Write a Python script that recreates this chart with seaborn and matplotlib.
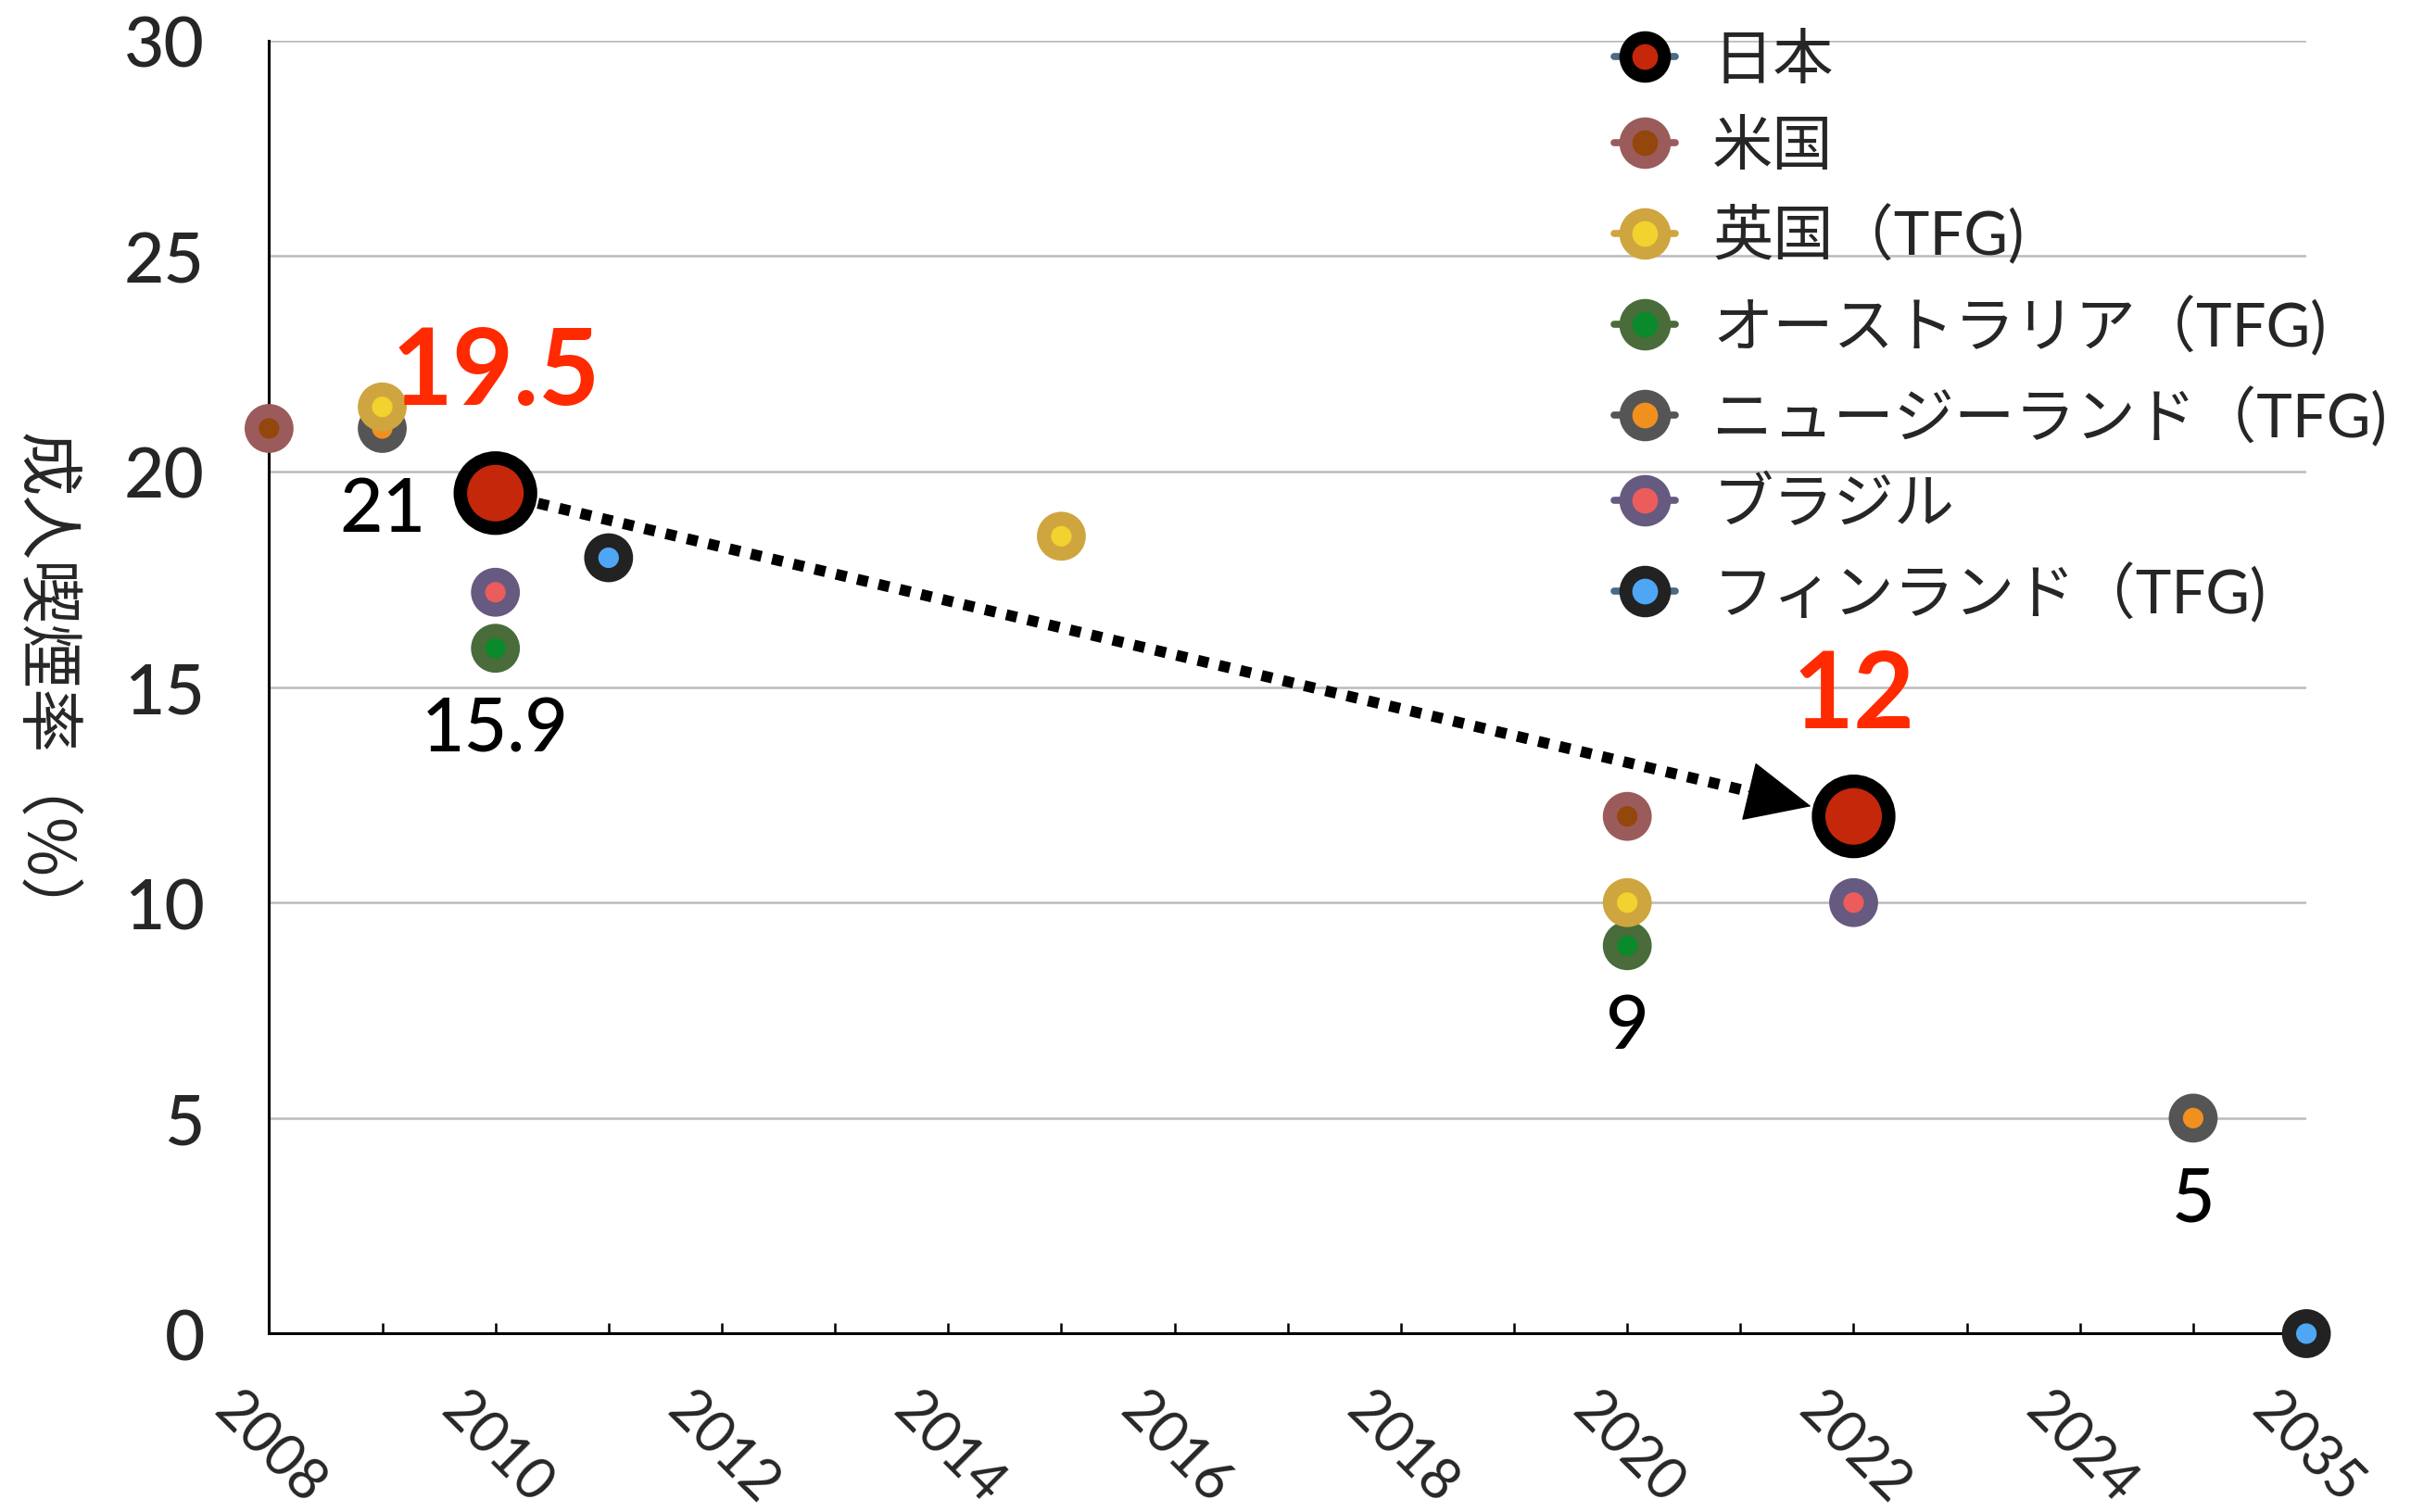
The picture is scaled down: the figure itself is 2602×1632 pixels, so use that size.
import matplotlib
matplotlib.use("Agg")
import matplotlib.pyplot as plt
import matplotlib.patheffects as pe
from matplotlib.lines import Line2D
from matplotlib.patches import ArrowStyle
import numpy as np
import pandas as pd
import seaborn as sns

# Category axis (one slot per year, last slot is the 2035 target)
years = ["2008", "2009", "2010", "2011", "2012", "2013", "2014", "2015", "2016",
         "2017", "2018", "2019", "2020", "2021", "2022", "2023", "2024", "2025",
         "2035"]

countries = ["日本", "米国", "英国（TFG)", "オーストラリア（TFG)",
             "ニュージーランド（TFG)", "ブラジル", "フィンランド（TFG)"]

japan_years = ["2010", "2022"]
japan_rates = [19.5, 12.0]
usa_years = ["2008", "2020"]
usa_rates = [21.0, 12.0]
uk_years = ["2009", "2015", "2020"]
uk_rates = [21.5, 18.5, 10.0]
aus_years = ["2010", "2020"]
aus_rates = [15.9, 9.0]
nz_years = ["2009", "2025"]
nz_rates = [21.0, 5.0]
brazil_years = ["2010", "2022"]
brazil_rates = [17.2, 10.0]
fin_years = ["2011", "2035"]
fin_rates = [18.0, 0.0]

series = {
    "日本": (japan_years, japan_rates),
    "米国": (usa_years, usa_rates),
    "英国（TFG)": (uk_years, uk_rates),
    "オーストラリア（TFG)": (aus_years, aus_rates),
    "ニュージーランド（TFG)": (nz_years, nz_rates),
    "ブラジル": (brazil_years, brazil_rates),
    "フィンランド（TFG)": (fin_years, fin_rates),
}

ring_colors = {
    "日本": "#000000", "米国": "#9c5b5b", "英国（TFG)": "#cfa53f",
    "オーストラリア（TFG)": "#4a6b3a", "ニュージーランド（TFG)": "#555555",
    "ブラジル": "#665a80", "フィンランド（TFG)": "#222222",
}
dot_colors = {
    "日本": "#c4270a", "米国": "#93470c", "英国（TFG)": "#f2d22e",
    "オーストラリア（TFG)": "#0a8a2a", "ニュージーランド（TFG)": "#f0901e",
    "ブラジル": "#eb5c5c", "フィンランド（TFG)": "#4fa6f5",
}
stub_colors = dict(ring_colors)
stub_colors["日本"] = "#4a6a85"
stub_colors["フィンランド（TFG)"] = "#4a6a85"

draw_order = ["日本", "米国", "オーストラリア（TFG)", "ニュージーランド（TFG)",
              "英国（TFG)", "ブラジル", "フィンランド（TFG)"]

rows = []
for name, (ys, vals) in series.items():
    for y, v in zip(ys, vals):
        rows.append({"country": name, "year": y, "pos": years.index(y), "rate": v})
df = pd.DataFrame(rows)

sns.set_theme(style="white")
plt.rcParams["font.family"] = ["Lato", "Noto Sans CJK JP", "DejaVu Sans"]

DPI = 100
fig, ax = plt.subplots(figsize=(26.02, 16.33), dpi=DPI)
fig.subplots_adjust(left=0.1116, right=0.9566, top=0.9726, bottom=0.1179)

shadow = [pe.SimplePatchShadow(offset=(2, -3), shadow_rgbFace="black", alpha=0.3),
          pe.Normal()]

for name in draw_order:
    d = df[df["country"] == name]
    if name == "日本":
        size, lw = 2970, 10.5
    else:
        size, lw = 729, 11.0
    sns.scatterplot(data=d, x="pos", y="rate", ax=ax, s=size,
                    color=dot_colors[name], edgecolor=ring_colors[name],
                    linewidth=lw, legend=False, zorder=5, clip_on=False)
    ax.collections[-1].set_path_effects(shadow)

# Axes limits first so the arrow geometry is final
ax.set_xlim(0, len(years) - 1)
ax.set_ylim(0, 30)

# Japan trend arrow: dotted shaft plus a solid head
jp = df[df["country"] == "日本"].sort_values("pos")
p0 = np.array([jp["pos"].iloc[0], jp["rate"].iloc[0]], dtype=float)
p1 = np.array([jp["pos"].iloc[1], jp["rate"].iloc[1]], dtype=float)
pt2px = DPI / 72
marker_gap = 34   # points between marker centre and arrow ends
head_len = 48     # points
d0 = ax.transData.transform(p0)
d1 = ax.transData.transform(p1)
u = (d1 - d0) / np.hypot(*(d1 - d0))
shaft_start = d0 + u * marker_gap * pt2px
shaft_end = d1 - u * (marker_gap + head_len - 4) * pt2px
shaft = ax.transData.inverted().transform(np.vstack([shaft_start, shaft_end]))
ax.plot(shaft[:, 0], shaft[:, 1], color="black", lw=8.5,
        linestyle=(0, (1, 1)), dash_capstyle="butt", zorder=4)
back = marker_gap + head_len + 2
ax.annotate("", xy=tuple(p1), xytext=(-u[0] * back, -u[1] * back),
            textcoords="offset points",
            arrowprops=dict(arrowstyle=ArrowStyle("-|>", head_length=0.48, head_width=0.22),
                            mutation_scale=100, color="black", lw=1,
                            shrinkA=0, shrinkB=marker_gap),
            zorder=4)

# Value labels
red_labels = [("日本", "2010", 19.5), ("日本", "2022", 12.0)]
for name, y, v in red_labels:
    ax.annotate(f"{v:g}", xy=(years.index(y), v), xytext=(0, 93),
                textcoords="offset points", ha="center", va="center",
                fontsize=82, fontweight="bold", color="#ff2a00", zorder=6)

black_labels = [("ニュージーランド（TFG)", "2009", 21.0),
                ("オーストラリア（TFG)", "2010", 15.9),
                ("オーストラリア（TFG)", "2020", 9.0),
                ("ニュージーランド（TFG)", "2025", 5.0)]
for name, y, v in black_labels:
    ax.annotate(f"{v:g}", xy=(years.index(y), v), xytext=(0, -63),
                textcoords="offset points", ha="center", va="center",
                fontsize=58, fontweight="medium", color="black", zorder=6)

# Axes styling
ax.set_yticks([0, 5, 10, 15, 20, 25, 30])
ax.set_xticks(range(len(years)))
ax.set_xticklabels([y if i % 2 == 0 else "" for i, y in enumerate(years)],
                   rotation=-45, ha="center", fontsize=44)
ax.tick_params(axis="x", direction="in", length=8, width=1.8, color="black",
               pad=38, bottom=True)
ax.tick_params(axis="y", length=0, pad=50, labelsize=54)
for lab in ax.get_yticklabels():
    lab.set_fontweight("medium")
ax.set_xlabel("")
ax.set_ylabel("成人喫煙率（%）", rotation=-90, fontsize=50,
              family=["Noto Sans CJK JP", "DejaVu Sans"])
ax.yaxis.set_label_coords(-0.127, 0.5)

ax.grid(axis="y", color="#bbbbbb", lw=1.8)
ax.grid(axis="x", visible=False)
ax.set_axisbelow(True)
for side in ["top", "right"]:
    ax.spines[side].set_visible(False)
for side in ["left", "bottom"]:
    ax.spines[side].set_color("black")
    ax.spines[side].set_linewidth(2.2)

# Legend
handles = [Line2D([0], [0], color=stub_colors[n], lw=5.5, marker="o", markersize=30,
                  markerfacecolor=dot_colors[n], markeredgecolor=ring_colors[n],
                  markeredgewidth=10) for n in countries]
leg = fig.legend(handles, countries, loc="upper left",
                 bbox_to_anchor=(0.6696, 0.978), frameon=False, fontsize=47,
                 handlelength=1.0, handletextpad=0.62, labelspacing=0.5,
                 borderpad=0, borderaxespad=0)

fig.savefig("out.png", dpi=DPI)
